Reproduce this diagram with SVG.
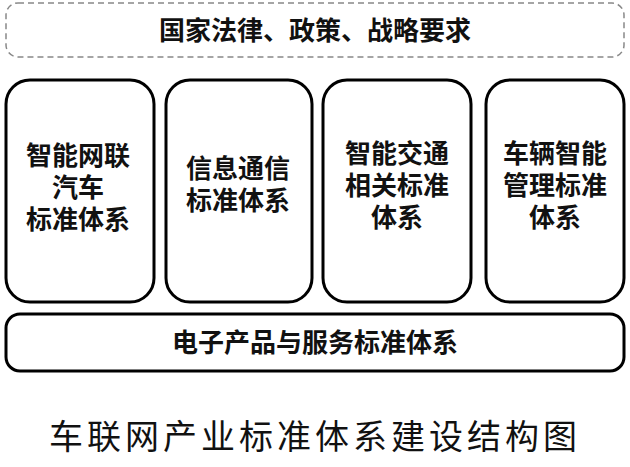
<svg xmlns="http://www.w3.org/2000/svg" width="630" height="467" viewBox="0 0 630 467">
<style>
.b{fill:#fff;stroke:#000;stroke-width:3}
.t{font-family:"Noto Sans CJK SC","Noto Sans",sans-serif;font-weight:bold;font-size:26px;text-anchor:middle;fill:#111}
</style>
<rect width="630" height="467" fill="#fff"/>
<g id="top"><rect x="6" y="3" width="618" height="54" rx="12" fill="#fff" stroke="#888" stroke-width="1.5" stroke-dasharray="6,4"/>
<text class="t" x="315" y="40">国家法律、政策、战略要求</text></g>
<g id="n1"><rect class="b" x="6" y="80" width="148" height="222" rx="24"/>
<text class="t" x="78" y="165">智能网联</text><text class="t" x="78" y="197">汽车</text><text class="t" x="78" y="229">标准体系</text></g>
<g id="n2"><rect class="b" x="166" y="80" width="146" height="222" rx="24"/>
<text class="t" x="238" y="178">信息通信</text><text class="t" x="238" y="210">标准体系</text></g>
<g id="n3"><rect class="b" x="323" y="80" width="148" height="222" rx="24"/>
<text class="t" x="397" y="163">智能交通</text><text class="t" x="397" y="195">相关标准</text><text class="t" x="397" y="227">体系</text></g>
<g id="n4"><rect class="b" x="486" y="80" width="138" height="222" rx="24"/>
<text class="t" x="555" y="163">车辆智能</text><text class="t" x="555" y="195">管理标准</text><text class="t" x="555" y="227">体系</text></g>
<g id="bottom"><rect class="b" x="6" y="314" width="618" height="57" rx="14"/>
<text class="t" x="315" y="352">电子产品与服务标准体系</text></g>
<g id="connectors"></g>
<text x="315" y="449" font-family="Noto Sans CJK SC,sans-serif" font-size="34" letter-spacing="4" text-anchor="middle" fill="#111">车联网产业标准体系建设结构图</text>
</svg>
